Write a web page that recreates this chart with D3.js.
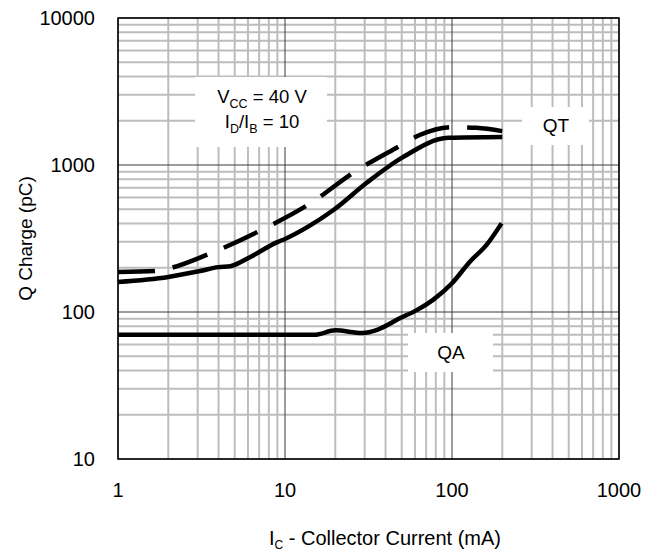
<!DOCTYPE html>
<html>
<head>
<meta charset="utf-8">
<script src="https://cdn.jsdelivr.net/npm/d3@7"></script>
<style>
  body { margin: 0; background: #fff; }
  text { font-family: "Liberation Sans", Arial, sans-serif; fill: #000; }
</style>
</head>
<body>
<div id="chart"></div>
<script>
// values
const xTicks = [1, 10, 100, 1000];
const yTicks = [10, 100, 1000, 10000];

const qtDashedIc = [1, 1.7, 2.1, 3.5, 7, 14, 26, 46, 64, 100, 140, 200];
const qtDashedQ = [187, 190, 200, 248, 355, 543, 896, 1300, 1600, 1810, 1790, 1700];

const qtSolidIc = [1, 2, 3.1, 4, 4.7, 6.2, 9, 10, 14, 19.5, 31, 50, 95, 200];
const qtSolidQ = [160, 173, 190, 202, 205, 237, 299, 314, 385, 494, 760, 1117, 1530, 1550];

const qaIc = [1, 15, 20, 29, 36, 49, 61.5, 77, 100, 128, 161, 198];
const qaQ = [70, 70, 75, 72, 76, 91, 103, 121, 157, 220, 286, 401];

const width = 654;
const height = 553;
const margin = { top: 18, right: 35, bottom: 94, left: 118 };

const svg = d3.select("#chart")
  .append("svg")
  .attr("width", width)
  .attr("height", height);

const x = d3.scaleLog().domain([1, 1000]).range([margin.left, width - margin.right]);
const y = d3.scaleLog().domain([10, 10000]).range([height - margin.bottom, margin.top]);

const [x0, x1] = x.range();
const [y0, y1] = y.range();

// minor grid
const xMinor = x.ticks().filter(d => !xTicks.includes(d));
const yMinor = y.ticks().filter(d => !yTicks.includes(d));

svg.append("g").selectAll("line")
  .data(xMinor)
  .enter()
  .append("line")
  .attr("x1", d => x(d)).attr("x2", d => x(d))
  .attr("y1", y1).attr("y2", y0)
  .attr("stroke", "#bdbdbd")
  .attr("stroke-width", 2);

svg.append("g").selectAll("line")
  .data(yMinor)
  .enter()
  .append("line")
  .attr("x1", x0).attr("x2", x1)
  .attr("y1", d => y(d)).attr("y2", d => y(d))
  .attr("stroke", "#bdbdbd")
  .attr("stroke-width", 2);

// major grid
svg.append("g").selectAll("line")
  .data(xTicks)
  .enter()
  .append("line")
  .attr("x1", d => x(d)).attr("x2", d => x(d))
  .attr("y1", y1).attr("y2", y0)
  .attr("stroke", "#3a3a3a")
  .attr("stroke-width", 1);

svg.append("g").selectAll("line")
  .data(yTicks)
  .enter()
  .append("line")
  .attr("x1", x0).attr("x2", x1)
  .attr("y1", d => y(d)).attr("y2", d => y(d))
  .attr("stroke", "#3a3a3a")
  .attr("stroke-width", 1);

// white boxes behind the labels
const boxes = [
  { x: 195, y: 77, w: 132, h: 70 },
  { x: 522, y: 107, w: 67, h: 38 },
  { x: 408, y: 333, w: 85, h: 39 }
];
svg.append("g").selectAll("rect")
  .data(boxes)
  .enter()
  .append("rect")
  .attr("x", d => d.x).attr("y", d => d.y)
  .attr("width", d => d.w).attr("height", d => d.h)
  .attr("fill", "#fff");

// curves
const line = d3.line()
  .x(d => x(d[0]))
  .y(d => y(d[1]))
  .curve(d3.curveMonotoneX);

const series = [
  { ic: qtDashedIc, q: qtDashedQ, dash: "37,18" },
  { ic: qtSolidIc, q: qtSolidQ, dash: null },
  { ic: qaIc, q: qaQ, dash: null }
];

series.forEach(s => {
  svg.append("path")
    .datum(d3.zip(s.ic, s.q))
    .attr("d", line)
    .attr("fill", "none")
    .attr("stroke", "#000")
    .attr("stroke-width", 4.5)
    .attr("stroke-linejoin", "round")
    .attr("stroke-dasharray", s.dash);
});

// plot border
svg.append("rect")
  .attr("x", x0).attr("y", y1)
  .attr("width", x1 - x0).attr("height", y0 - y1)
  .attr("fill", "none")
  .attr("stroke", "#000")
  .attr("stroke-width", 1.5);

// tick labels
svg.append("g").selectAll("text")
  .data(xTicks)
  .enter()
  .append("text")
  .attr("x", d => x(d))
  .attr("y", y0 + 38)
  .attr("text-anchor", "middle")
  .style("font-size", "20px")
  .text(d => d);

svg.append("g").selectAll("text")
  .data(yTicks)
  .enter()
  .append("text")
  .attr("x", x0 - 23)
  .attr("y", d => y(d) + 7)
  .attr("text-anchor", "end")
  .style("font-size", "20px")
  .text(d => d);

// axis titles
const xTitle = svg.append("text")
  .attr("x", 385)
  .attr("y", 545)
  .attr("text-anchor", "middle")
  .style("font-size", "20px");
xTitle.append("tspan").text("I");
xTitle.append("tspan").attr("dy", 4).style("font-size", "12px").text("C");
xTitle.append("tspan").attr("dy", -4).text(" - Collector Current (mA)");

svg.append("text")
  .attr("transform", `translate(32,${(y0 + y1) / 2}) rotate(-90)`)
  .attr("text-anchor", "middle")
  .style("font-size", "19px")
  .text("Q Charge (pC)");

// conditions note
const note1 = svg.append("text")
  .attr("x", 262).attr("y", 103)
  .attr("text-anchor", "middle")
  .style("font-size", "18.5px");
note1.append("tspan").text("V");
note1.append("tspan").attr("dy", 5).style("font-size", "12.5px").text("CC");
note1.append("tspan").attr("dy", -5).text(" = 40 V");

const note2 = svg.append("text")
  .attr("x", 262).attr("y", 128)
  .attr("text-anchor", "middle")
  .style("font-size", "18.5px");
note2.append("tspan").text("I");
note2.append("tspan").attr("dy", 5).style("font-size", "12.5px").text("D");
note2.append("tspan").attr("dy", -5).text("/I");
note2.append("tspan").attr("dy", 5).style("font-size", "12.5px").text("B");
note2.append("tspan").attr("dy", -5).text(" = 10");

// series labels
svg.append("text")
  .attr("x", 556).attr("y", 132)
  .attr("text-anchor", "middle")
  .style("font-size", "19px")
  .text("QT");

svg.append("text")
  .attr("x", 451).attr("y", 359)
  .attr("text-anchor", "middle")
  .style("font-size", "19px")
  .text("QA");
</script>
</body>
</html>
